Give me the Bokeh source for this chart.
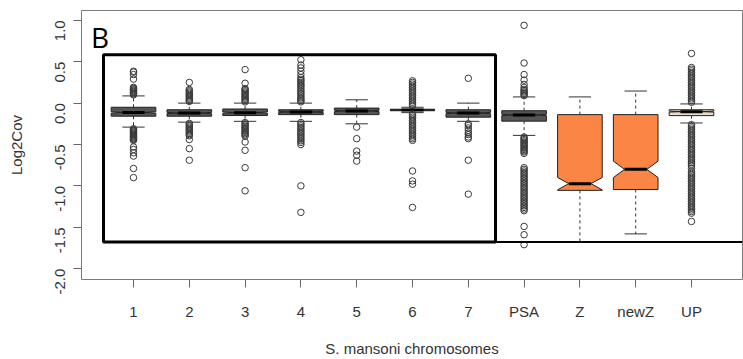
import math
from bokeh.plotting import figure
from bokeh.models import Range1d, FixedTicker, BoxAnnotation, Label
from bokeh.embed import file_html
from bokeh.resources import INLINE

# ---------------- data ----------------
categories = ["1", "2", "3", "4", "5", "6", "7", "PSA", "Z", "newZ", "UP"]
q1 = [-0.158, -0.158, -0.150, -0.139, -0.139, -0.092, -0.170, -0.218, -1.054, -1.044, -0.151]
median = [-0.113, -0.120, -0.115, -0.107, -0.095, -0.083, -0.120, -0.143, -0.973, -0.800, -0.103]
q3 = [-0.050, -0.080, -0.071, -0.080, -0.060, -0.074, -0.080, -0.092, -0.139, -0.139, -0.080]
whisker_low = [-0.29, -0.23, -0.22, -0.22, -0.25, -0.115, -0.22, -0.39, -1.68, -1.58, -0.24]
whisker_high = [0.087, 0.0, 0.0, 0.0, 0.04, -0.05, 0.0, 0.075, 0.075, 0.146, -0.01]
notch = [0.008, 0.008, 0.008, 0.008, 0.008, 0.006, 0.008, 0.008, 0.075, 0.099, 0.006]

outliers_1 = [0.10, 0.11, 0.12, 0.13, 0.14, 0.15, 0.16, 0.17, 0.18, 0.19, 0.29, 0.345, 0.375, 0.385,
              -0.31, -0.32, -0.33, -0.34, -0.35, -0.36, -0.37, -0.38, -0.39, -0.40, -0.41, -0.42,
              -0.43, -0.44, -0.45, -0.53, -0.56, -0.60, -0.64, -0.79, -0.90]
outliers_2 = [0.02, 0.03, 0.045, 0.06, 0.075, 0.09, 0.105, 0.12, 0.135, 0.15, 0.165, 0.25,
              -0.245, -0.26, -0.275, -0.29, -0.305, -0.32, -0.335, -0.35, -0.365, -0.38, -0.395,
              -0.44, -0.55, -0.69]
outliers_3 = [0.015, 0.03, 0.045, 0.06, 0.075, 0.09, 0.105, 0.12, 0.135, 0.15, 0.165, 0.175, 0.24, 0.405,
              -0.235, -0.25, -0.265, -0.28, -0.295, -0.31, -0.325, -0.34, -0.355, -0.37, -0.385,
              -0.40, -0.47, -0.57, -0.78, -1.06]
outliers_4 = [0.015, 0.03, 0.048, 0.065, 0.085, 0.107, 0.125, 0.145, 0.167, 0.19, 0.21, 0.226, 0.25,
              0.27, 0.286, 0.31, 0.345, 0.385, 0.425, 0.46, 0.524,
              -0.235, -0.255, -0.275, -0.295, -0.315, -0.335, -0.355, -0.375, -0.395, -0.415,
              -0.435, -0.455, -0.475, -0.50, -1.00, -1.32]
outliers_5 = [-0.29, -0.43, -0.58, -0.63, -0.70]
outliers_6 = [-0.03, -0.01, 0.01, 0.03, 0.05, 0.07, 0.09, 0.11, 0.13, 0.15, 0.17, 0.19, 0.21, 0.23,
              0.25, 0.27,
              -0.13, -0.15, -0.17, -0.19, -0.21, -0.23, -0.25, -0.27, -0.29, -0.31, -0.33, -0.35,
              -0.37, -0.39, -0.41, -0.43, -0.45, -0.82, -0.94, -0.98, -1.26]
outliers_7 = [0.30, -0.25, -0.27, -0.30, -0.33, -0.36, -0.38, -0.41, -0.43, -0.69, -1.10]
outliers_psa = [0.09, 0.105, 0.12, 0.135, 0.15, 0.165, 0.19, 0.226, 0.278, 0.345, 0.484, 0.94,
                -0.41, -0.425, -0.44, -0.455, -0.47, -0.485, -0.50, -0.515, -0.53, -0.545, -0.56,
                -0.575, -0.59, -0.607,
                -0.78, -0.80, -0.82, -0.84, -0.86, -0.88, -0.90, -0.92, -0.94, -0.96, -0.98, -1.00,
                -1.02, -1.04, -1.06, -1.08, -1.10, -1.12, -1.14, -1.16, -1.18, -1.20, -1.22, -1.24,
                -1.26, -1.28, -1.30, -1.49, -1.59, -1.71]
outliers_z = []
outliers_newz = []
outliers_up = [0.01, 0.03, 0.05, 0.07, 0.09, 0.11, 0.13, 0.15, 0.17, 0.19, 0.21, 0.23, 0.25, 0.27,
               0.29, 0.31, 0.33, 0.35, 0.37, 0.39, 0.41, 0.43, 0.60,
               -0.26, -0.28, -0.30, -0.32, -0.34, -0.36, -0.38, -0.40, -0.42, -0.44, -0.46, -0.48,
               -0.50, -0.52, -0.54, -0.56, -0.58, -0.60, -0.62, -0.64, -0.66, -0.68, -0.70, -0.72,
               -0.74, -0.76, -0.79,
               -0.83, -0.85, -0.87, -0.89, -0.91, -0.93, -0.95, -0.97, -0.99, -1.01, -1.03, -1.05,
               -1.07, -1.09, -1.11, -1.13, -1.15, -1.17, -1.19, -1.21, -1.23, -1.25, -1.27, -1.29,
               -1.31, -1.33, -1.43]
outliers = [outliers_1, outliers_2, outliers_3, outliers_4, outliers_5, outliers_6, outliers_7,
            outliers_psa, outliers_z, outliers_newz, outliers_up]

box_colors = ["#555555"] * 8 + ["#FA8544", "#FA8544", "#E9DCC8"]

ytick_values = [-2.0, -1.5, -1.0, -0.5, 0.0, 0.5, 1.0]
ytick_labels = ["-2.0", "-1.5", "-1.0", "-0.5", "0.0", "0.5", "1.0"]

# highlight annotations (data units)
rect_left, rect_right, rect_top, rect_bottom = 0.462, 7.487, 0.583, -1.679
x_lo, x_hi = 0.068, 11.914
y_lo, y_hi = -2.131, 1.119

# ---------------- figure ----------------
p = figure(width=743, height=359, x_range=Range1d(x_lo, x_hi), y_range=Range1d(y_lo, y_hi),
           output_backend="svg", toolbar_location=None,
           min_border_left=81, min_border_right=1, min_border_top=10, min_border_bottom=76)
p.grid.visible = False
p.outline_line_color = "#7a7a7a"
p.outline_line_width = 1
p.background_fill_color = "white"
p.border_fill_color = "white"

positions = list(range(1, len(categories) + 1))
box_w = 0.4
cap_w = 0.2

# whiskers
p.segment(x0=positions, y0=q3, x1=positions, y1=whisker_high, line_color="#333333",
          line_width=1, line_dash="3 3")
p.segment(x0=positions, y0=q1, x1=positions, y1=whisker_low, line_color="#333333",
          line_width=1, line_dash="3 3")
# caps
p.segment(x0=[c - cap_w for c in positions], y0=whisker_high,
          x1=[c + cap_w for c in positions], y1=whisker_high, line_color="#333333", line_width=1)
p.segment(x0=[c - cap_w for c in positions], y0=whisker_low,
          x1=[c + cap_w for c in positions], y1=whisker_low, line_color="#333333", line_width=1)

# notched boxes
xs, ys = [], []
for c, a, m, b, n in zip(positions, q1, median, q3, notch):
    xs.append([c - box_w, c + box_w, c + box_w, c + box_w / 2, c + box_w, c + box_w,
               c - box_w, c - box_w, c - box_w / 2, c - box_w])
    ys.append([b, b, m + n, m, m - n, a, a, m - n, m, m + n])
p.patches(xs=xs, ys=ys, fill_color=box_colors, line_color="#222222", line_width=1)

# medians
p.segment(x0=[c - box_w / 2 for c in positions], y0=median,
          x1=[c + box_w / 2 for c in positions], y1=median, line_color="black", line_width=3)

# outliers
ox, oy = [], []
for c, vals in zip(positions, outliers):
    ox.extend([c] * len(vals))
    oy.extend(vals)
p.scatter(x=ox, y=oy, marker="circle", size=6.5, fill_color=None, line_color="#3a3a3a",
          line_width=1)

# highlight rectangle and line
p.add_layout(BoxAnnotation(left=rect_left, right=rect_right, top=rect_top, bottom=rect_bottom,
                           fill_alpha=0, fill_color=None, line_color="black", line_alpha=1.0,
                           line_width=3))
p.segment(x0=[rect_right], y0=[rect_bottom], x1=[x_hi], y1=[rect_bottom], line_color="black",
          line_width=2)

p.add_layout(Label(x=0.24, y=0.80, text="B", text_font="Open Sans", text_font_size="28px",
                   text_color="black", text_baseline="alphabetic"))

# axes
p.xaxis.ticker = FixedTicker(ticks=positions)
p.xaxis.major_label_overrides = {pos: cat for pos, cat in zip(positions, categories)}
p.yaxis.ticker = FixedTicker(ticks=ytick_values)
p.yaxis.major_label_overrides = {v: t for v, t in zip(ytick_values, ytick_labels)}
p.yaxis.major_label_orientation = math.pi / 2
p.xaxis.axis_label = "S. mansoni chromosomes"
p.yaxis.axis_label = "Log2Cov"
for ax in (p.xaxis, p.yaxis):
    ax.axis_line_color = None
    ax.major_tick_line_color = "#666666"
    ax.major_tick_out = 8
    ax.major_tick_in = 0
    ax.minor_tick_line_color = None
    ax.major_label_text_font = "Liberation Sans"
    ax.major_label_text_font_size = "15px"
    ax.major_label_text_color = "#333333"
    ax.axis_label_text_font = "Liberation Sans"
    ax.axis_label_text_font_size = "15px"
    ax.axis_label_text_color = "#333333"
    ax.axis_label_text_font_style = "normal"
p.xaxis.major_label_standoff = 15
p.xaxis.axis_label_standoff = 17
p.yaxis.major_label_standoff = 13
p.yaxis.axis_label_standoff = 23

open("out.html", "w").write(file_html(p, INLINE))
